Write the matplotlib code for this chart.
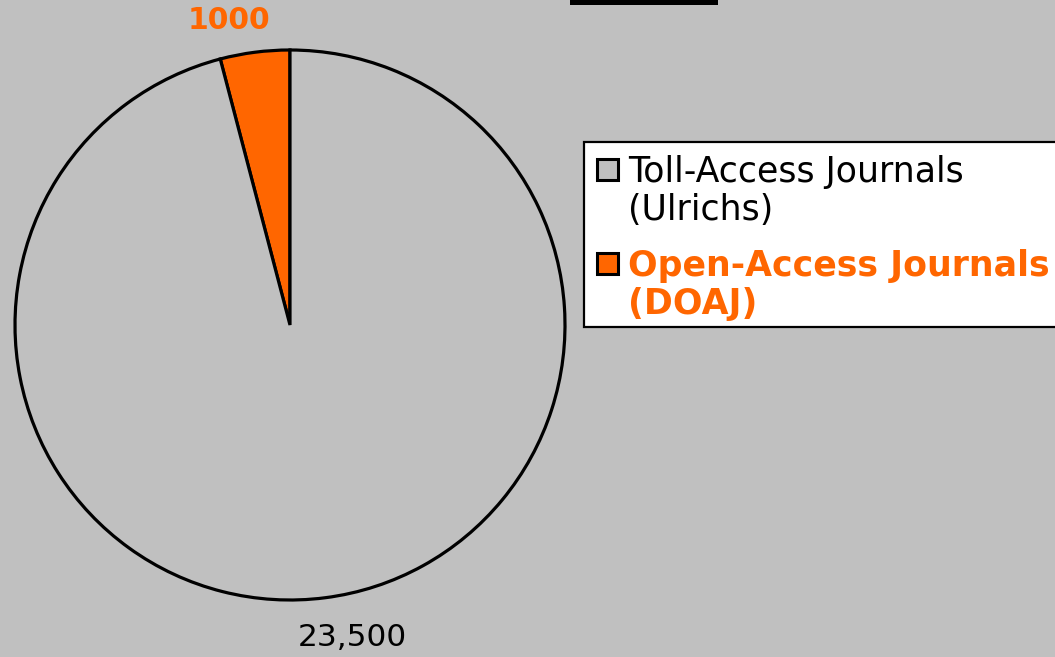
import numpy as np
import matplotlib
matplotlib.use("Agg")
import matplotlib.pyplot as plt
from matplotlib.patches import Rectangle

categories = ["Toll-Access Journals\n(Ulrichs)", "Open-Access Journals\n(DOAJ)"]
values = [23500, 1000]
value_labels = ["23,500", "1000"]
colors = ["#C0C0C0", "#FF6600"]
text_colors = ["black", "#FF6600"]
weights = ["normal", "bold"]

plt.rcParams['font.family'] = ['DejaVu Sans']

W, H = 1055, 657
fig = plt.figure(figsize=(W / 100, H / 100), dpi=100, facecolor="#C0C0C0")

cx, cy, r = 290, 325, 275
ax = fig.add_axes([(cx - r) / W, (H - cy - r) / H, 2 * r / W, 2 * r / H])
ax.set_facecolor("#C0C0C0")
ax.axis("off")

# Draw the small slice counterclockwise from 12 o'clock (plot order reversed)
wedges, texts = ax.pie(values[::-1], colors=colors[::-1], startangle=90,
                       counterclock=True, radius=1,
                       wedgeprops=dict(edgecolor="black", linewidth=2.3),
                       labels=value_labels[::-1], labeldistance=1.14)
ax.set_xlim(-1, 1)
ax.set_ylim(-1, 1)
ax.set_aspect("equal")

for w, t, c, fw in zip(wedges, texts, text_colors[::-1], weights[::-1]):
    mid = np.deg2rad((w.theta1 + w.theta2) / 2 + 4)
    rr = 1.13 if fw == "bold" else 1.16
    t.set_position((rr * np.cos(mid), rr * np.sin(mid)))
    t.set_ha("center")
    t.set_va("center")
    t.set_color(c)
    t.set_fontweight(fw)
    t.set_fontsize(21.5 if fw == "bold" else 22.5)
    t.set_clip_on(False)

# Legend drawn as a framed box with square markers aligned to the first line
def fx(px):
    return px / W

def fy(py):
    return 1 - py / H

fig.patches.append(Rectangle((fx(584), fy(327)), fx(1062) - fx(584), fy(142) - fy(327),
                             transform=fig.transFigure, facecolor="white",
                             edgecolor="black", linewidth=1.6, zorder=5))
entry_top = [157, 251]
line_gap = 38
for i, (lab, c, tc, fw) in enumerate(zip(categories, colors, text_colors, weights)):
    top = entry_top[i]
    fig.patches.append(Rectangle((fx(597), fy(top + 23)), fx(21), 21 / H,
                                 transform=fig.transFigure, facecolor=c,
                                 edgecolor="black", linewidth=2.2, zorder=6))
    for j, line in enumerate(lab.split("\n")):
        fig.text(fx(628), fy(top + 25 + j * line_gap), line, color=tc,
                 fontweight=fw, fontsize=25, ha="left", va="baseline", zorder=7)

# bottom of a cut-off title underline at top of slide
fig.patches.append(Rectangle((fx(570), fy(5)), fx(148), 6 / H,
                             transform=fig.transFigure, facecolor="black",
                             edgecolor="none"))

fig.savefig("out.png", dpi=100, facecolor=fig.get_facecolor())
